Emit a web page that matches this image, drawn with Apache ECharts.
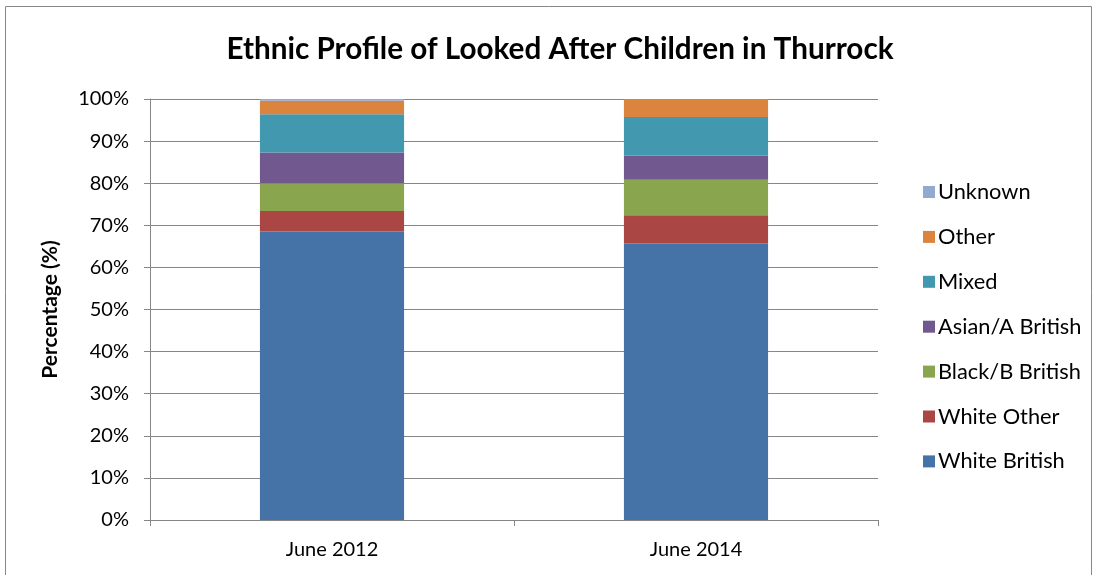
<!DOCTYPE html>
<html><head><meta charset="utf-8">
<script src="https://cdn.jsdelivr.net/npm/echarts@6/dist/echarts.min.js"></script>
<style>html,body{margin:0;padding:0;background:#fff}#c{width:1096px;height:575px}</style>
</head><body><div id="c"></div>
<script>
const categories = ['June 2012', 'June 2014'];
const whiteBritish = [68.5, 65.7];
const whiteOther = [4.9, 6.7];
const blackBritish = [6.6, 8.4];
const asianBritish = [7.3, 5.8];
const mixed = [9.1, 9.1];
const other = [3.2, 4.3];
const unknown = [0.4, 0.0];
const seriesNames = ['White British','White Other','Black/B British','Asian/A British','Mixed','Other','Unknown'];
const seriesData = [whiteBritish, whiteOther, blackBritish, asianBritish, mixed, other, unknown];
const colors = ['#4572A7','#AA4643','#89A54E','#71588F','#4198AF','#DB843D','#93A9CF'];
const font = 'Lato, "Open Sans", sans-serif';
const chart = echarts.init(document.getElementById('c'));
chart.setOption({
  animation: false,
  color: colors,
  title: {text: 'Ethnic Profile of Looked After Children in Thurrock', left: 555, top: 29, textAlign: 'center',
    textStyle: {fontFamily: font, fontSize: 29.7, fontWeight: 'bold', color: '#000'}},
  graphic: [{type: 'rect', shape: {x: 5.5, y: 6.5, width: 1086, height: 575}, style: {fill: 'none', stroke: '#868686', lineWidth: 1}}],
  legend: {orient: 'vertical', left: 918, top: 176, itemGap: 22.9, itemWidth: 12, itemHeight: 12,
    icon: 'rect', data: seriesNames.slice().reverse(),
    textStyle: {fontFamily: font, fontSize: 21.8, color: '#000', padding: [0,0,0,-2]}},
  grid: {left: 150, right: 218, top: 99, bottom: 55},
  xAxis: {type: 'category', data: categories,
    axisLine: {lineStyle: {color: '#868686'}},
    axisTick: {show: true, length: 6, lineStyle: {color: '#868686'}},
    axisLabel: {fontFamily: font, fontSize: 20, color: '#000', margin: 20}},
  yAxis: {type: 'value', min: 0, max: 100, interval: 10,
    name: 'Percentage (%)', nameLocation: 'middle', nameGap: 89, nameRotate: 90,
    nameTextStyle: {fontFamily: font, fontSize: 21, fontWeight: 'bold', color: '#000'},
    axisLine: {show: true, lineStyle: {color: '#868686'}},
    axisTick: {show: true, length: 6, lineStyle: {color: '#868686'}},
    splitLine: {lineStyle: {color: '#868686'}},
    axisLabel: {formatter: '{value}%', fontFamily: font, fontSize: 20, color: '#000', margin: 21}},
  series: seriesNames.map((n, i) => ({name: n, type: 'bar', stack: 'total', barWidth: '39.6%',
    data: seriesData[i], itemStyle: {color: colors[i]}}))
});
</script></body></html>
